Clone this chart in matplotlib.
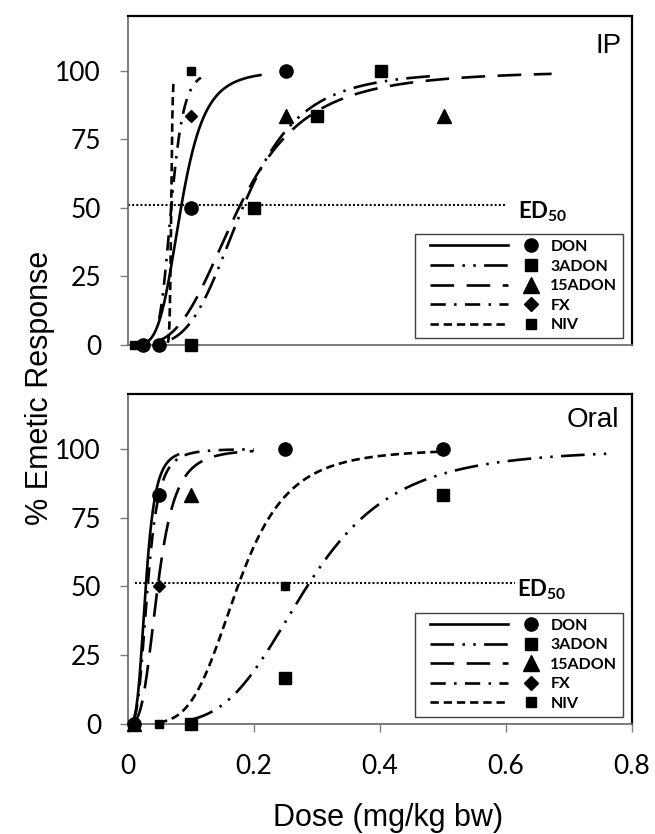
import matplotlib
matplotlib.use('Agg')
import matplotlib.pyplot as plt
import numpy as np
from matplotlib.lines import Line2D
from matplotlib.legend_handler import HandlerBase

plt.rcParams['lines.scale_dashes'] = False
plt.rcParams['mathtext.fontset'] = 'custom'
plt.rcParams['mathtext.rm'] = 'Lato'
plt.rcParams['mathtext.bf'] = 'Lato:bold'

# ---------------- data ----------------
compounds = ['DON', '3ADON', '15ADON', 'FX', 'NIV']

# observed points, IP route
ip_DON_x = [0.025, 0.05, 0.1, 0.25]
ip_DON_y = [0, 0, 50, 100]
ip_3ADON_x = [0.1, 0.2, 0.3, 0.4]
ip_3ADON_y = [0, 50, 83.3, 100]
ip_15ADON_x = [0.25, 0.5]
ip_15ADON_y = [83.3, 83.3]
ip_FX_x = [0.1]
ip_FX_y = [83.3]
ip_NIV_x = [0.01, 0.1]
ip_NIV_y = [0, 100]

# observed points, oral route
or_DON_x = [0.01, 0.05, 0.25, 0.5]
or_DON_y = [0, 83.3, 100, 100]
or_3ADON_x = [0.1, 0.25, 0.5]
or_3ADON_y = [0, 16.7, 83.3]
or_15ADON_x = [0.01, 0.1]
or_15ADON_y = [0, 83.3]
or_FX_x = [0.05]
or_FX_y = [50]
or_NIV_x = [0.05, 0.25]
or_NIV_y = [0, 50]

# fitted dose-response curves (Hill), parameters
ip_ed50 = [0.0845, 0.182, 0.176, 0.069, 0.069]
ip_hill = [4.5, 4.0, 3.3, 7.0, 60.0]
ip_from = [0.03, 0.07, 0.05, 0.05, 0.0637]
ip_to = [0.21, 0.48, 0.67, 0.116, 0.073]

or_ed50 = [0.029, 0.285, 0.048, 0.032, 0.175]
or_hill = [3.8, 4.1, 3.4, 3.6, 4.4]
or_from = [0.01, 0.1, 0.01, 0.01, 0.05]
or_to = [0.08, 0.765, 0.2, 0.2, 0.5]

ed50_level = 51
ed50_line_from = [0.0, 0.012]
ed50_line_to = [0.6, 0.614]

x_ticks = [0, 0.2, 0.4, 0.6, 0.8]
x_ticklabels = ['0', '0.2', '0.4', '0.6', '0.8']
y_ticks = [0, 25, 50, 75, 100]
y_ticklabels = ['0', '25', '50', '75', '100']

# ---------------- styles ----------------
lw = 1.9
styles = {
    'DON': '-',
    '3ADON': (0, (17, 6, 1.8, 6, 1.8, 6)),
    '15ADON': (0, (17, 9)),
    'FX': (0, (11, 6, 1.8, 6)),
    'NIV': (0, (6, 3.5)),
}
mk = {
    'DON': dict(marker='o', ms=9.5),
    '3ADON': dict(marker='s', ms=8.5),
    '15ADON': dict(marker='^', ms=9.5),
    'FX': dict(marker='D', ms=6.5),
    'NIV': dict(marker='s', ms=6),
}
leg_mk = {
    'DON': dict(marker='o', ms=9.5),
    '3ADON': dict(marker='s', ms=9),
    '15ADON': dict(marker='^', ms=11.5),
    'FX': dict(marker='D', ms=7),
    'NIV': dict(marker='s', ms=6.5),
}


class LineMarkerHandler(HandlerBase):
    def create_artists(self, legend, orig_handle, xdescent, ydescent,
                       width, height, fontsize, trans):
        name = orig_handle.get_label()
        y = height / 2 - ydescent
        x0 = -xdescent
        ln = Line2D([x0 + 0.085 * width, x0 + 0.745 * width], [y, y],
                    color='black', lw=lw, linestyle=styles[name],
                    dash_capstyle='butt')
        m = Line2D([x0 + 0.94 * width], [y], color='black', linestyle='none',
                   mec='black', **leg_mk[name])
        ln.set_transform(trans)
        m.set_transform(trans)
        return [ln, m]


W, H = 655, 834
fig = plt.figure(figsize=(W / 100, H / 100), dpi=100)

left = 127.5 / W
width = (632 - 127.5) / W
ax_ip = fig.add_axes([left, 1 - 345 / H, width, (345 - 15.7) / H])
ax_or = fig.add_axes([left, 1 - 723.5 / H, width, (723.5 - 394) / H])

ip_pts = {'DON': (ip_DON_x, ip_DON_y), '3ADON': (ip_3ADON_x, ip_3ADON_y),
          '15ADON': (ip_15ADON_x, ip_15ADON_y), 'FX': (ip_FX_x, ip_FX_y),
          'NIV': (ip_NIV_x, ip_NIV_y)}
or_pts = {'DON': (or_DON_x, or_DON_y), '3ADON': (or_3ADON_x, or_3ADON_y),
          '15ADON': (or_15ADON_x, or_15ADON_y), 'FX': (or_FX_x, or_FX_y),
          'NIV': (or_NIV_x, or_NIV_y)}


def hill(x, ed50, n):
    return 100.0 / (1.0 + (ed50 / x) ** n)


def draw(ax, pts, ed50s, hills, froms, tos, k, label, lab_y):
    for i, c in enumerate(compounds):
        xs = np.linspace(froms[i], tos[i], 300)
        ax.plot(xs, hill(xs, ed50s[i], hills[i]), color='black', lw=lw,
                linestyle=styles[c], dash_capstyle='butt', zorder=2)
    for c in compounds:
        px, py = pts[c]
        ax.plot(px, py, linestyle='none', color='black', mec='black',
                clip_on=False, zorder=3, **mk[c])
    ax.plot([ed50_line_from[k], ed50_line_to[k]], [ed50_level, ed50_level],
            color='black', lw=1.5, linestyle=(0, (1.4, 1.6)), zorder=1)
    ax.text(0.617, 46.2, r'$\mathbf{ED}_{\mathbf{50}}$', fontsize=16,
            ha='left', va='baseline')
    ax.text(0.78, lab_y, label, fontsize=20, family='Liberation Sans',
            ha='right', va='baseline')
    ax.set_xlim(0, 0.797)
    ax.set_ylim(0, 120)
    ax.set_yticks(y_ticks)
    ax.set_yticklabels(y_ticklabels, family='Lato', fontsize=19)
    ax.tick_params(axis='y', direction='out', length=6, width=1,
                   color='#7f7f7f', pad=13)
    for s in ['top', 'right']:
        ax.spines[s].set_color('black')
        ax.spines[s].set_linewidth(1.6)
    for s in ['left', 'bottom']:
        ax.spines[s].set_color('#6f6f6f')
        ax.spines[s].set_linewidth(1.3)
    handles = [Line2D([], [], label=c) for c in compounds]
    leg = ax.legend(handles=handles, labels=compounds,
                    handler_map={Line2D: LineMarkerHandler()},
                    loc='lower right', bbox_to_anchor=(0.982, 0.021),
                    borderaxespad=0, frameon=True, fancybox=False,
                    framealpha=1, edgecolor='#404040',
                    handlelength=7.39, handletextpad=0.75, borderpad=0.35,
                    labelspacing=0.34,
                    prop={'family': 'Lato', 'weight': 'bold', 'size': 11.5})
    leg.get_frame().set_linewidth(1.0)


draw(ax_ip, ip_pts, ip_ed50, ip_hill, ip_from, ip_to, 0, 'IP', 106.5)
draw(ax_or, or_pts, or_ed50, or_hill, or_from, or_to, 1, 'Oral', 107.8)

ax_ip.set_xticks([])
ax_or.set_xticks(x_ticks)
ax_or.set_xticklabels(x_ticklabels, family='Lato', fontsize=19)
ax_or.tick_params(axis='x', direction='out', length=6, width=1,
                  color='#7f7f7f', pad=16)

fig.text(40 / W, 1 - 388 / H, '% Emetic Response', rotation=90,
         family='Liberation Sans', fontsize=22, ha='center', va='center')
fig.text(388 / W, 1 - 818 / H, 'Dose (mg/kg bw)',
         family='Liberation Sans', fontsize=22, ha='center', va='center')

fig.savefig('out.png', dpi=100)
